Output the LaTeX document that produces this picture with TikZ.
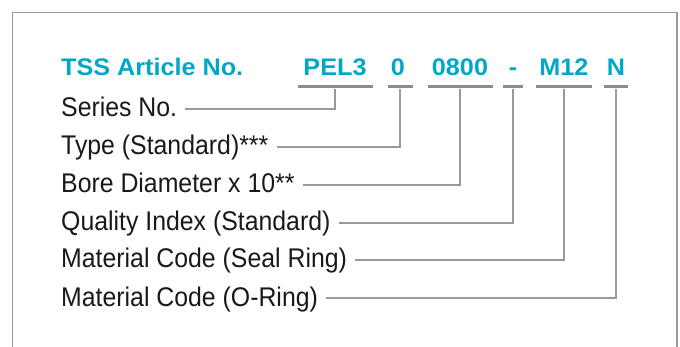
\documentclass[tikz,border=0pt]{standalone}
\usepackage{fontspec}
\setmainfont{Liberation Sans}
\newfontfamily\codefont[FakeStretch=1.05]{Liberation Sans}
\newfontfamily\entryfont[FakeStretch=0.92]{Liberation Sans}
\usepackage{xcolor}
\usetikzlibrary{positioning}
\definecolor{primary}{HTML}{00A8C8}
\definecolor{linegray}{HTML}{9A9A9A}
\definecolor{bargray}{HTML}{8C8C8C}

\tikzset{
    code/.style={font=\codefont\bfseries\fontsize{24}{28}\selectfont, text=primary,
        anchor=base, inner sep=0pt},
    bar/.style={fill=bargray, inner sep=0pt, minimum height=3pt},
    entry/.style={font=\entryfont\fontsize{27}{32}\selectfont, text=black!90, anchor=base west,
        text height=16pt, text depth=0pt, inner ysep=0pt, inner xsep=8pt},
    link/.style={draw=linegray, line width=1.2pt}
}

\begin{document}
\begin{tikzpicture}[x=1pt, y=1pt]
    \useasboundingbox (0,0) rectangle (680,-347);
    \draw[linegray, line width=1.5pt] (12.5,-347) |- (677,-12.5) -- (677,-347);

    % article number
    \node[code, anchor=base west] (title) at (61,-76) {TSS Article No.};
    \node[code] (pel) at (335,-76) {PEL3};
    \node[code] (typ) at (398,-76) {0};
    \node[code] (bore) at (460,-76) {0800};
    \node[code] (dash) at (513,-76) {-};
    \node[code] (mat) at (564,-76) {M12};
    \node[code] (ring) at (616,-76) {N};

    \node[bar, minimum width=75pt] (pelbar) at (335,-87) {};
    \node[bar, minimum width=25pt] (typbar) at (400,-87) {};
    \node[bar, minimum width=65pt] (borebar) at (460,-87) {};
    \node[bar, minimum width=20pt] (dashbar) at (513,-87) {};
    \node[bar, minimum width=56pt] (matbar) at (564,-87) {};
    \node[bar, minimum width=24pt] (ringbar) at (616,-87) {};

    % explanations
    \node[entry] (series) at (53,-117) {Series No.};
    \node[entry] (type) at (53,-155) {Type (Standard)***};
    \node[entry] (diam) at (53,-193) {Bore Diameter x 10**};
    \node[entry] (quality) at (53,-231) {Quality Index (Standard)};
    \node[entry] (seal) at (53,-268) {Material Code (Seal Ring)};
    \node[entry] (oring) at (53,-306) {Material Code (O-Ring)};

    \draw[link] (pelbar.south) |- (series.east);
    \draw[link] (typbar.south) |- (type.east);
    \draw[link] (borebar.south) |- (diam.east);
    \draw[link] (dashbar.south) |- (quality.east);
    \draw[link] (matbar.south) |- (seal.east);
    \draw[link] (ringbar.south) |- (oring.east);
\end{tikzpicture}
\end{document}
